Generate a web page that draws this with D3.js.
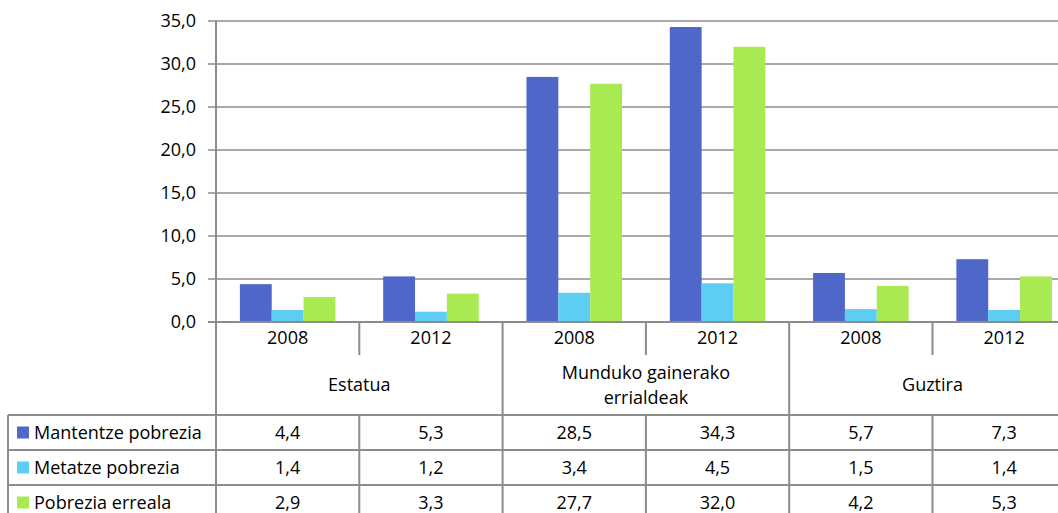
<!DOCTYPE html>
<html><head><meta charset="utf-8">
<script src="https://cdn.jsdelivr.net/npm/d3@7"></script>
<style>body{margin:0;background:#fff}svg{display:block}text{font-family:"Open Sans",Lato,sans-serif;fill:#000}</style>
</head><body><svg id="c" width="1058" height="513"></svg>
<script>
const years = ["2008","2012","2008","2012","2008","2012"];
const groups = [["Estatua"],["Munduko gainerako","errialdeak"],["Guztira"]];
const seriesNames = ["Mantentze pobrezia","Metatze pobrezia","Pobrezia erreala"];
const mantentze = [4.4,5.3,28.5,34.3,5.7,7.3];
const metatze = [1.4,1.2,3.4,4.5,1.5,1.4];
const erreala = [2.9,3.3,27.7,32.0,4.2,5.3];
const yTicks = [0,5,10,15,20,25,30,35];
const colors = ["#4F67C9","#5DCDF3","#A9E952"];
const series = [mantentze, metatze, erreala];

const svg = d3.select("#c");
const fmt = v => d3.format(".1f")(v).replace(".", ",");
const gridC = "#8c8c8c";
const FS = 18;
const left = 216, colW = 143.3;
const x = d3.scaleBand().domain(d3.range(6)).range([left, left + 6*colW]).padding(0);
const xs = d3.scaleBand().domain(d3.range(3)).range([0, colW]).paddingInner(0).paddingOuter(0.75);
const y = d3.scaleLinear().domain([0,35]).range([322, 21]);

svg.append("g").selectAll("line").data(yTicks).join("line")
  .attr("x1", 208).attr("x2", 1058).attr("y1", d=>y(d)).attr("y2", d=>y(d))
  .attr("stroke", gridC).attr("stroke-width", 1.6);
svg.append("g").selectAll("text").data(yTicks).join("text")
  .attr("x", 196).attr("y", d=>y(d)).attr("dy","0.36em").attr("text-anchor","end")
  .attr("font-size", FS).text(fmt);

series.forEach((s, si) => {
  svg.append("g").selectAll("rect").data(s).join("rect")
    .attr("x", (d,i)=>x(i)+xs(si)).attr("width", xs.bandwidth())
    .attr("y", d=>y(d)).attr("height", d=>y(0)-y(d))
    .attr("fill", colors[si]);
});

svg.append("line").attr("x1", left).attr("x2", left).attr("y1", 21).attr("y2", 513)
  .attr("stroke", gridC).attr("stroke-width", 2);
svg.append("line").attr("x1", 208).attr("x2", 1058).attr("y1", y(0)).attr("y2", y(0))
  .attr("stroke", gridC).attr("stroke-width", 2);

const yearBottom = 355, headBottom = 415, rowH = 35;
const T = svg.append("g");
d3.range(1,6).forEach(i => {
  const xx = x(i);
  const full = i % 2 === 0;
  T.append("line").attr("x1", xx).attr("x2", xx).attr("y1", y(0)).attr("y2", full ? 513 : yearBottom)
    .attr("stroke", gridC).attr("stroke-width", 2);
  if (!full) T.append("line").attr("x1", xx).attr("x2", xx).attr("y1", headBottom).attr("y2", 513)
    .attr("stroke", gridC).attr("stroke-width", 2);
});
[0,1,2].forEach(r => {
  T.append("line").attr("x1", 8).attr("x2", 1058).attr("y1", headBottom + r*rowH).attr("y2", headBottom + r*rowH)
    .attr("stroke", gridC).attr("stroke-width", 2);
});
T.append("line").attr("x1", 8).attr("x2", 8).attr("y1", headBottom).attr("y2", 513)
  .attr("stroke", gridC).attr("stroke-width", 2);

T.selectAll("text.yr").data(years).join("text").attr("class","yr")
  .attr("x", (d,i)=>x(i)+colW/2).attr("y", 338).attr("dy","0.36em")
  .attr("text-anchor","middle").attr("font-size",FS).text(d=>d);
groups.forEach((g, gi) => {
  const cx = x(gi*2) + colW;
  const y0 = 385 - (g.length-1)*12.5;
  g.forEach((line, li) => {
    T.append("text").attr("x", cx).attr("y", y0 + li*25).attr("dy","0.36em")
      .attr("text-anchor","middle").attr("font-size",FS).text(line);
  });
});
series.forEach((s, si) => {
  const cy = headBottom + si*rowH + rowH/2;
  T.append("rect").attr("x", 17).attr("y", cy-6).attr("width", 12).attr("height", 12).attr("fill", colors[si]);
  T.append("text").attr("x", 34).attr("y", cy).attr("dy","0.36em").attr("font-size",FS).text(seriesNames[si]);
  T.selectAll(null).data(s).join("text")
    .attr("x", (d,i)=>x(i)+colW/2).attr("y", cy).attr("dy","0.36em")
    .attr("text-anchor","middle").attr("font-size",FS).text(fmt);
});
</script></body></html>
